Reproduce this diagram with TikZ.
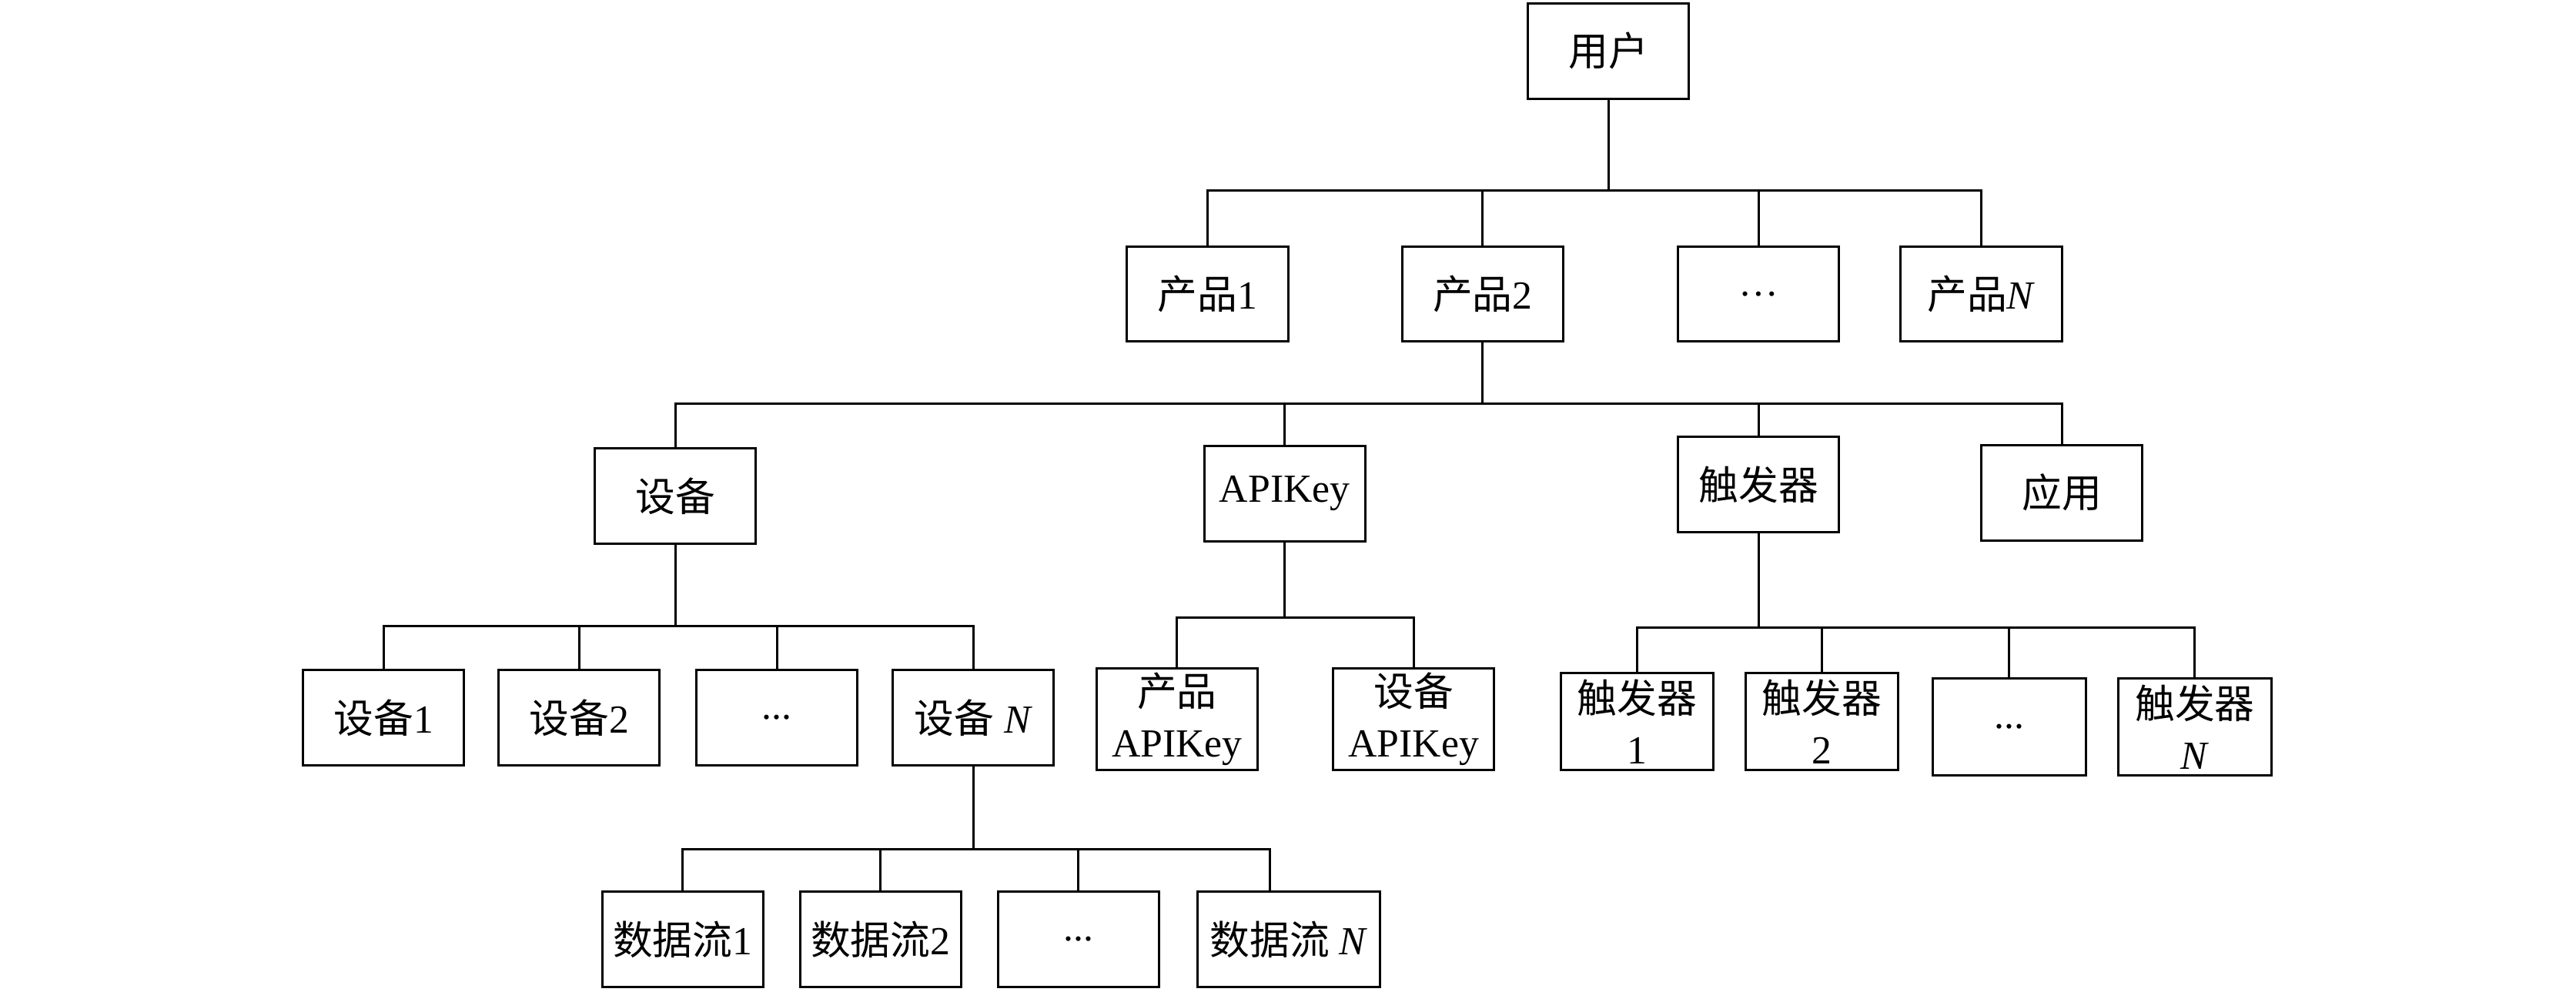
\documentclass[tikz,border=0pt]{standalone}
\usepackage{fontspec}
\setmainfont{Liberation Serif}
\newfontfamily\cjk{Noto Sans CJK SC}
\usetikzlibrary{calc}

\begin{document}
\begin{tikzpicture}[line width=0.8pt,
    box/.style={draw,minimum width=1.96cm,minimum height=1.16cm,inner sep=0pt,align=center,
      font=\fontsize{13.8}{17.6}\selectfont}]
  \useasboundingbox (0,0) rectangle (31.36,-12.08);
  \node[box] (user) at (19.58,-0.62) {{\cjk 用户}};
  \node[box] (p1) at (14.70,-3.58) {{\cjk 产品}1};
  \node[box] (p2) at (18.05,-3.58) {{\cjk 产品}2};
  \node[box] (p3) at (21.41,-3.58) {\ldots};
  \node[box] (pn) at (24.12,-3.58) {{\cjk 产品}\textit{N}};
  \node[box] (dev) at (8.22,-6.04) {{\cjk 设备}};
  \node[box] (key) at (15.64,-6.01) {APIKey};
  \node[box] (trig) at (21.41,-5.90) {{\cjk 触发器}};
  \node[box] (app) at (25.10,-6.00) {{\cjk 应用}};
  \node[box] (dev1) at (4.67,-8.74) {{\cjk 设备}1};
  \node[box] (dev2) at (7.05,-8.74) {{\cjk 设备}2};
  \node[box] (dev3) at (9.46,-8.74) {...};
  \node[box] (devn) at (11.85,-8.74) {{\cjk 设备} \textit{N}};
  \node[box,minimum height=1.24cm] (pkey) at (14.33,-8.76) {{\cjk 产品}\\APIKey};
  \node[box,minimum height=1.24cm] (dkey) at (17.21,-8.76) {{\cjk 设备}\\APIKey};
  \node[box,minimum width=1.86cm,minimum height=1.18cm] (trig1) at (19.93,-8.79) {{\cjk 触发器}\\1};
  \node[box,minimum width=1.86cm,minimum height=1.18cm] (trig2) at (22.18,-8.79) {{\cjk 触发器}\\2};
  \node[box,minimum width=1.86cm,minimum height=1.18cm] (trig3) at (24.46,-8.85) {...};
  \node[box,minimum width=1.86cm,minimum height=1.18cm] (trign) at (26.72,-8.85) {{\cjk 触发器}\\\textit{N}};
  \node[box] (ds1) at (8.31,-11.44) {{\cjk 数据流}1};
  \node[box] (ds2) at (10.72,-11.44) {{\cjk 数据流}2};
  \node[box] (ds3) at (13.13,-11.44) {...};
  \node[box,minimum width=2.22cm] (dsn) at (15.69,-11.44) {{\cjk 数据流} \textit{N}};
  \coordinate (dsnin) at ($(dsn.north)+(-0.23,0)$);
  \coordinate (bus1) at (0,-2.32);
  \coordinate (bus2) at (0,-4.92);
  \coordinate (bus3) at (0,-7.62);
  \coordinate (bus4) at (0,-7.52);
  \coordinate (bus5) at (0,-7.64);
  \coordinate (bus6) at (0,-10.34);
  \foreach \c in {p1,p2,p3,pn} \draw (user.south) |- (bus1 -| \c) -- (\c.north);
  \foreach \c in {dev,key,trig,app} \draw (p2.south) |- (bus2 -| \c) -- (\c.north);
  \foreach \c in {dev1,dev2,dev3,devn} \draw (dev.south) |- (bus3 -| \c) -- (\c.north);
  \foreach \c in {pkey,dkey} \draw (key.south) |- (bus4 -| \c) -- (\c.north);
  \foreach \c in {trig1,trig2,trig3,trign} \draw (trig.south) |- (bus5 -| \c) -- (\c.north);
  \foreach \c in {ds1,ds2,ds3} \draw (devn.south) |- (bus6 -| \c) -- (\c.north);
  \draw (devn.south) |- (bus6 -| dsnin) -- (dsnin);
\end{tikzpicture}
\end{document}
